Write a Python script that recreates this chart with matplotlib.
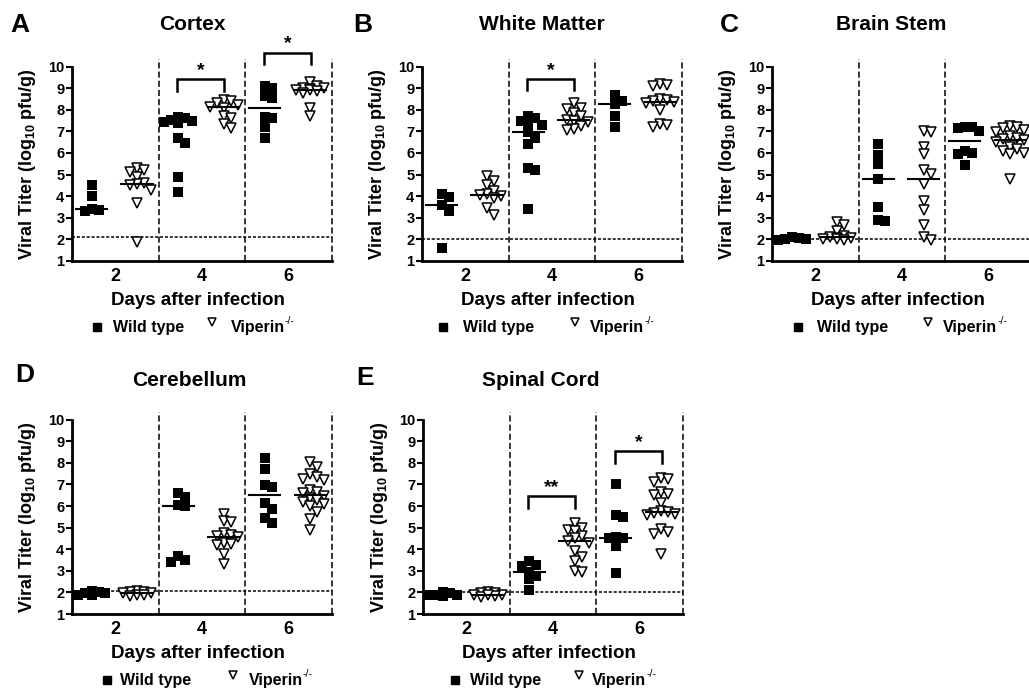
import numpy as np
import matplotlib
matplotlib.use("Agg")
import matplotlib.pyplot as plt
from matplotlib import transforms

plt.rcParams['font.family'] = 'Liberation Sans'
plt.rcParams['font.weight'] = 'bold'
plt.rcParams['mathtext.fontset'] = 'custom'
plt.rcParams['mathtext.rm'] = 'Liberation Sans:bold'
plt.rcParams['mathtext.it'] = 'Liberation Sans:bold'
plt.rcParams['mathtext.bf'] = 'Liberation Sans:bold'

# ---- data (log10 pfu/g), one list per day: 2, 4, 6 ----
days = [2, 4, 6]

cortex_wt = [[4.5, 4.0, 3.42, 3.38, 3.3],
             [7.65, 7.6, 7.55, 7.5, 7.45, 7.4, 6.7, 6.45, 4.9, 4.2],
             [9.1, 9.0, 8.65, 8.55, 7.65, 7.6, 7.2, 6.7]]
cortex_vip = [[5.3, 5.2, 5.1, 4.9, 4.6, 4.55, 4.5, 4.3, 3.7, 1.9],
              [8.45, 8.4, 8.3, 8.2, 8.15, 8.1, 7.7, 7.6, 7.35, 7.15],
              [9.3, 9.1, 9.0, 9.0, 8.95, 8.9, 8.9, 8.85, 8.8, 8.1, 7.7]]

wm_wt = [[4.1, 3.95, 3.6, 3.3, 1.6],
         [7.7, 7.6, 7.5, 7.3, 7.3, 6.95, 6.7, 6.4, 5.3, 5.2, 3.4],
         [8.7, 8.4, 8.25, 7.7, 7.2]]
wm_vip = [[4.95, 4.7, 4.5, 4.25, 4.1, 4.05, 4.0, 3.9, 3.45, 3.15],
          [8.3, 8.1, 8.05, 7.85, 7.7, 7.55, 7.5, 7.45, 7.25, 7.1, 7.05],
          [9.2, 9.15, 9.1, 8.5, 8.45, 8.4, 8.35, 8.3, 8.0, 7.35, 7.3, 7.2]]

bs_wt = [[2.1, 2.05, 2.0, 2.0, 1.98],
         [6.4, 5.9, 5.5, 4.8, 3.5, 2.9, 2.85],
         [7.2, 7.2, 7.15, 7.0, 6.1, 6.0, 5.95, 5.45]]
bs_vip = [[2.8, 2.65, 2.4, 2.15, 2.1, 2.08, 2.05, 2.0, 2.0, 1.98],
          [7.0, 6.95, 6.3, 5.95, 5.2, 5.05, 4.55, 3.8, 3.35, 2.65, 2.1, 1.95],
          [7.25, 7.2, 7.15, 7.05, 6.95, 6.8, 6.7, 6.65, 6.6, 6.5, 6.3, 6.2,
           6.1, 6.0, 5.95, 4.8]]

cb_wt = [[2.05, 2.0, 1.95, 1.95, 1.9, 1.9],
         [6.6, 6.4, 6.05, 6.0, 3.7, 3.5, 3.4],
         [8.2, 7.7, 6.95, 6.9, 6.15, 5.85, 5.45, 5.2]]
cb_vip = [[2.05, 2.0, 2.0, 1.95, 1.95, 1.9, 1.9, 1.85],
          [5.65, 5.3, 5.25, 4.75, 4.65, 4.6, 4.55, 4.3, 4.25, 4.2, 3.8, 3.3],
          [8.05, 7.8, 7.5, 7.35, 7.25, 7.2, 6.75, 6.65, 6.6, 6.45, 6.35, 6.3,
           6.2, 6.1, 6.0, 5.7, 5.4, 4.9]]

sc_wt = [[2.0, 1.95, 1.9, 1.9, 1.85, 1.9],
         [3.45, 3.25, 3.2, 2.95, 2.75, 2.6, 2.1],
         [7.0, 5.6, 5.5, 4.55, 4.5, 4.5, 4.15, 2.9]]
sc_vip = [[2.0, 1.95, 1.95, 1.9, 1.9, 1.85, 1.8, 1.9],
          [5.2, 5.0, 4.9, 4.85, 4.6, 4.5, 4.4, 4.3, 3.9, 3.65, 3.45, 3.0, 2.95],
          [7.3, 7.25, 7.1, 6.65, 6.55, 6.5, 6.15, 5.75, 5.7, 5.68, 5.65, 5.6,
           4.95, 4.8, 4.7, 3.8]]

titles = ["Cortex", "White Matter", "Brain Stem", "Cerebellum", "Spinal Cord"]
letters = ["A", "B", "C", "D", "E"]
lods = [2.1, 2.03, 2.03, 2.05, 2.02]
# significance: (day, bracket height, label)
sigs = [[(4, 9.41, "*"), (6, 10.64, "*")],
        [(4, 9.43, "*")],
        [],
        [],
        [(4, 6.44, "**"), (6, 8.54, "*")]]
all_wt = [cortex_wt, wm_wt, bs_wt, cb_wt, sc_wt]
all_vip = [cortex_vip, wm_vip, bs_vip, cb_vip, sc_vip]

# ---- layout (pixels) ----
W, H = 1029, 689
AXW = 260.0
YPU = 21.6                 # px per log unit
YTOP = 10.35
AXH = (YTOP - 1) * YPU
XPU = AXW / 6.0
ax_left = [72, 422, 772, 72, 423]
ax_base = [261, 261, 261, 614, 614]   # pixel row of y = 1
title_x = [192, 542, 891, 189, 541]
title_y = [30, 30, 30, 386, 386]
letter_x = [10, 353, 720, 15, 356]
letter_y = [32, 32, 32, 382, 385]
leg_x = [(0.096, 0.158, 0.54, 0.61), (0.08, 0.158, 0.588, 0.646),
         (0.1, 0.173, 0.6, 0.658), (0.135, 0.185, 0.62, 0.68),
         (0.123, 0.18, 0.6, 0.65)]

WT_OFF, VIP_OFF = -0.55, 0.5
STEP, GAP = 3.5, 7.0


def swarm(vals, xc):
    vals = np.asarray(vals, float)
    xs = np.full(len(vals), float(xc))
    placed = []
    steps = [0, 1, -1, 2, -2, 3, -3, 4, -4]
    for i in np.argsort(-vals):
        y = vals[i] * YPU
        best, best_n = 0.0, None
        for s in steps:
            x = s * STEP
            n = sum(1 for px, py in placed if abs(px - x) < GAP and abs(py - y) < GAP)
            if best_n is None or n < best_n:
                best, best_n = x, n
            if n == 0:
                break
        placed.append((best, y))
        xs[i] = xc + best / XPU
    return xs


fig = plt.figure(figsize=(W / 100, H / 100), dpi=100)

for i in range(5):
    l, b = ax_left[i], ax_base[i]
    ax = fig.add_axes([l / W, (H - b) / H, AXW / W, AXH / H])
    ax.set_xlim(1, 7)
    ax.set_ylim(1, YTOP)
    for s in ["top", "right"]:
        ax.spines[s].set_visible(False)
    ax.spines["left"].set_bounds(1, 10)
    ax.spines["left"].set_linewidth(2)
    ax.spines["bottom"].set_linewidth(2)
    ax.set_yticks(range(1, 11))
    ax.tick_params(axis="y", direction="out", length=4, width=1.5,
                   labelsize=10.5, pad=1.5)
    ax.set_xticks(days)
    ax.set_xticklabels([str(d) for d in days])
    ax.tick_params(axis="x", length=0, labelsize=13, pad=5)

    # dividers and detection limit
    for xv in [3, 5, 7]:
        ax.plot([xv, xv], [1, YTOP], color="k", lw=1.1, ls=(0, (4, 2)),
                clip_on=False, zorder=2)
    ax.plot([1, 7], [lods[i], lods[i]], color="k", lw=1.1, ls=(0, (2, 1.2)),
            zorder=2)

    for k, d in enumerate(days):
        wt = np.array(all_wt[i][k])
        vp = np.array(all_vip[i][k])
        ax.plot(swarm(wt, d + WT_OFF), wt, ls="none", marker="s", ms=6.5,
                mfc="k", mec="k", mew=0, zorder=3, clip_on=False)
        ax.plot(swarm(vp, d + VIP_OFF), vp, ls="none", marker="v", ms=6.5,
                mfc="white", mec="k", mew=1.1, zorder=3, clip_on=False)
        for vals, off in [(wt, WT_OFF), (vp, VIP_OFF)]:
            m = np.median(vals)
            ax.plot([d + off - 0.36, d + off + 0.36], [m, m], color="k",
                    lw=1.5, zorder=5, clip_on=False)

    for d, top, lab in sigs[i]:
        x1, x2 = d - 0.57, d + 0.51
        ax.plot([x1, x1, x2, x2], [top - 0.53, top, top, top - 0.53],
                color="k", lw=1.8, clip_on=False, solid_joinstyle="miter")
        ax.text((x1 + x2) / 2, top + 0.2, lab, ha="center", va="baseline",
                fontsize=14, clip_on=False)

    # labels
    ytr = transforms.blended_transform_factory(ax.transAxes, ax.transData)
    ax.text(-44 / AXW, 5.5, "Viral Titer (log$_{10}$ pfu/g)", transform=ytr,
            rotation=90, ha="center", va="center", fontsize=13)
    ax.text(0.5 - 4 / AXW, -44 / AXH, "Days after infection",
            transform=ax.transAxes, ha="center", va="baseline", fontsize=13.5)

    # legend row
    lx = leg_x[i]
    ax.plot([lx[0]], [-65.5 / AXH], marker="s", ms=6, color="k",
            transform=ax.transAxes, clip_on=False)
    ax.text(lx[1], -71 / AXH, "Wild type", transform=ax.transAxes,
            ha="left", va="baseline", fontsize=11.5)
    ax.plot([lx[2]], [-61 / AXH], marker="v", ms=6, mfc="white", mec="k",
            mew=1.1, transform=ax.transAxes, clip_on=False)
    vt = ax.text(lx[3], -71 / AXH, "Viperin", transform=ax.transAxes,
                 ha="left", va="baseline", fontsize=11.5)
    ax.annotate("-/-", xy=(1.0, 0.62), xycoords=vt, ha="left", va="bottom",
                fontsize=7.5, fontweight="normal", annotation_clip=False)

    fig.text(title_x[i] / W, 1 - title_y[i] / H, titles[i], ha="center",
             va="baseline", fontsize=15)
    fig.text(letter_x[i] / W, 1 - letter_y[i] / H, letters[i], ha="left",
             va="baseline", fontsize=19)

fig.savefig("out.png", dpi=100)
